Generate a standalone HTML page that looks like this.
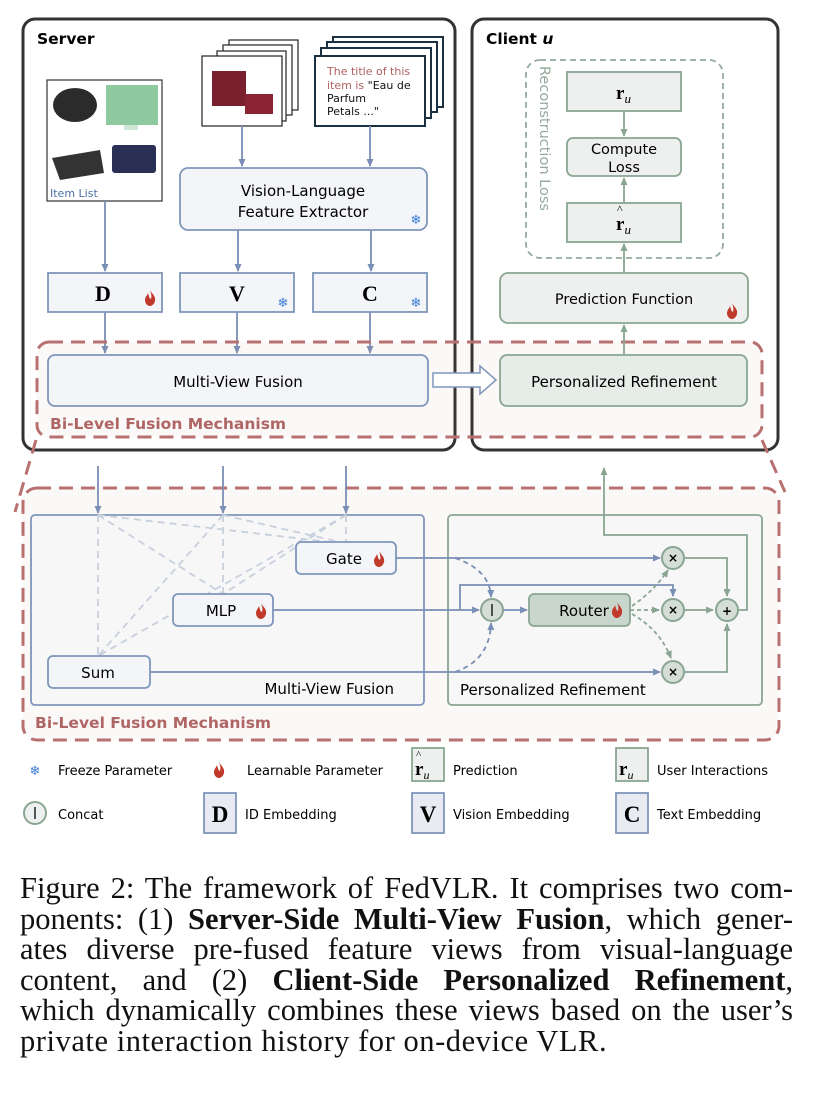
<!DOCTYPE html>
<html><head><meta charset="utf-8"><style>
html,body{margin:0;padding:0;background:#fff;}
body{width:818px;height:1110px;position:relative;overflow:hidden;}
svg{position:absolute;left:0;top:0;}
.cap{position:absolute;left:20px;top:873px;width:773px;font-family:"Liberation Serif",serif;font-size:30.5px;line-height:30.5px;color:#111;}
.cap div{white-space:nowrap;text-align:justify;text-align-last:justify;width:773px;height:30.5px;}
.cap div.l{text-align-last:left;letter-spacing:0.55px;}
</style></head><body>
<svg width="818" height="870" viewBox="0 0 818 870" font-family="DejaVu Sans, Liberation Sans, sans-serif">
<defs>
<marker id="ab" markerWidth="8" markerHeight="8" refX="7" refY="4" orient="auto" markerUnits="userSpaceOnUse"><path d="M0,0.5 L8,4 L0,7.5z" fill="#7a8fb5"/></marker>
<marker id="ag" markerWidth="8" markerHeight="8" refX="7" refY="4" orient="auto" markerUnits="userSpaceOnUse"><path d="M0,0.5 L8,4 L0,7.5z" fill="#8aa592"/></marker>
<g id="fl"><path d="M5,0 C7,4 11,6 10,11 C9,15 6,16 5,16 C2,16 0,13 0,10 C0,7 2,6 3,3 C4,6 4,8 6,9 C7,6 6,3 5,0z" fill="#c0392b"/></g>
</defs>
<rect x="23" y="19" width="432" height="431" rx="12" fill="#fff" stroke="#333" stroke-width="3"/>
<rect x="472" y="19" width="306" height="431" rx="12" fill="#fff" stroke="#333" stroke-width="3"/>
<text x="37" y="44" font-size="15.5" font-weight="bold">Server</text>
<text x="486" y="44" font-size="15.5" font-weight="bold">Client <tspan font-style="italic">u</tspan></text>
<rect x="47" y="80" width="115" height="121" fill="#fff" stroke="#333" stroke-width="1.2"/>
<ellipse cx="75" cy="105" rx="22" ry="17" fill="#2b2b2b"/>
<rect x="106" y="85" width="52" height="40" fill="#8fc9a0"/><rect x="124" y="125" width="14" height="5" fill="#cfe8d5"/>
<path d="M52,158 L100,150 L104,173 L60,180z" fill="#333"/>
<rect x="112" y="145" width="44" height="28" rx="3" fill="#2a3055"/>
<text x="50" y="197" font-size="11" fill="#4a6fa5">Item List</text>
<rect x="229" y="40" width="69" height="70" fill="#fff" stroke="#222" stroke-width="1.2"/>
<rect x="223" y="45" width="69" height="70" fill="#fff" stroke="#222" stroke-width="1.2"/>
<rect x="217" y="51" width="69" height="70" fill="#fff" stroke="#222" stroke-width="1.2"/>
<rect x="202" y="56" width="80" height="70" fill="#fff" stroke="#222" stroke-width="1.2"/>
<rect x="212" y="71" width="34" height="35" fill="#7a1f2e"/><rect x="245" y="94" width="28" height="20" fill="#8a2434"/>
<rect x="333" y="37" width="110" height="70" fill="#fff" stroke="#1b3040" stroke-width="2"/>
<rect x="327" y="42" width="110" height="70" fill="#fff" stroke="#1b3040" stroke-width="2"/>
<rect x="321" y="48" width="110" height="70" fill="#fff" stroke="#1b3040" stroke-width="2"/>
<rect x="315" y="56" width="110" height="70" fill="#fff" stroke="#1b3040" stroke-width="2"/>
<text font-size="11" fill="#b06060"><tspan x="327" y="75">The title of this</tspan><tspan x="327" y="89">item is <tspan fill="#111">"Eau de</tspan></tspan><tspan x="327" y="102" fill="#111">Parfum</tspan><tspan x="327" y="115" fill="#111">Petals ..."</tspan></text>
<g stroke="#7a8fb5" stroke-width="1.8" fill="none">
<line x1="242" y1="126" x2="242" y2="166" marker-end="url(#ab)"/>
<line x1="370" y1="126" x2="370" y2="166" marker-end="url(#ab)"/>
<line x1="105" y1="201" x2="105" y2="271" marker-end="url(#ab)"/>
<line x1="238" y1="230" x2="238" y2="271" marker-end="url(#ab)"/>
<line x1="371" y1="230" x2="371" y2="271" marker-end="url(#ab)"/>
<line x1="105" y1="312" x2="105" y2="353" marker-end="url(#ab)"/>
<line x1="237" y1="312" x2="237" y2="353" marker-end="url(#ab)"/>
<line x1="370" y1="312" x2="370" y2="353" marker-end="url(#ab)"/>
</g>
<rect x="180" y="168" width="247" height="62" rx="8" fill="#f3f5f8" stroke="#7f96bb" stroke-width="1.8"/>
<text x="303" y="196" font-size="15" text-anchor="middle">Vision-Language</text>
<text x="303" y="217" font-size="15" text-anchor="middle">Feature Extractor</text>
<text x="416" y="224" font-size="13" fill="#3a7bd5" text-anchor="middle">❄</text>
<g fill="#f3f5f8" stroke="#7f96bb" stroke-width="1.8">
<rect x="48" y="273" width="114" height="39"/><rect x="180" y="273" width="114" height="39"/><rect x="313" y="273" width="114" height="39"/></g>
<g font-family="Liberation Serif, serif" font-weight="bold" font-size="22" text-anchor="middle">
<text x="103" y="301">D</text><text x="237" y="301">V</text><text x="370" y="301">C</text></g>
<use href="#fl" x="145" y="290"/>
<text x="283" y="307" font-size="13" fill="#3a7bd5" text-anchor="middle">❄</text>
<text x="416" y="307" font-size="13" fill="#3a7bd5" text-anchor="middle">❄</text>
<rect x="37" y="342" width="725" height="95" rx="12" fill="#b87070" fill-opacity="0.05" stroke="#b87070" stroke-width="3" stroke-dasharray="14,8"/>
<rect x="48" y="355" width="380" height="51" rx="7" fill="#f3f5f8" stroke="#7f96bb" stroke-width="1.8"/>
<text x="238" y="387" font-size="15" text-anchor="middle">Multi-View Fusion</text>
<path d="M433,373 L480,373 L480,366 L496,380 L480,394 L480,387 L433,387z" fill="#fff" stroke="#7f96bb" stroke-width="1.5"/>
<rect x="500" y="355" width="247" height="51" rx="7" fill="#e6ece7" stroke="#8aa592" stroke-width="1.8"/>
<text x="624" y="387" font-size="15" text-anchor="middle">Personalized Refinement</text>
<text x="50" y="429" font-size="15.5" font-weight="bold" fill="#b06565">Bi-Level Fusion Mechanism</text>
<rect x="526" y="60" width="197" height="198" rx="14" fill="none" stroke="#95aa9c" stroke-width="1.8" stroke-dasharray="6,4"/>
<text transform="translate(540,66) rotate(90)" font-size="14.5" fill="#95aa9c">Reconstruction Loss</text>
<g fill="#eef0ef" stroke="#8aa592" stroke-width="1.8">
<rect x="567" y="72" width="114" height="39"/><rect x="567" y="138" width="114" height="38" rx="6"/><rect x="567" y="203" width="114" height="39"/>
<rect x="500" y="273" width="248" height="50" rx="8"/></g>
<text x="616" y="99" font-family="Liberation Serif, serif" font-weight="bold" font-size="19">r<tspan font-weight="normal" font-style="italic" font-size="13" dy="4">u</tspan></text>
<text x="616" y="230" font-family="Liberation Serif, serif" font-weight="bold" font-size="19">r<tspan font-weight="normal" font-style="italic" font-size="13" dy="4">u</tspan></text>
<text x="617" y="213" font-family="Liberation Serif, serif" font-size="12">^</text>
<text x="624" y="154" font-size="14.5" text-anchor="middle">Compute</text>
<text x="624" y="172" font-size="14.5" text-anchor="middle">Loss</text>
<text x="624" y="304" font-size="14.5" text-anchor="middle">Prediction Function</text>
<use href="#fl" x="727" y="303"/>
<g stroke="#8aa592" stroke-width="1.8">
<line x1="624" y1="111" x2="624" y2="136" marker-end="url(#ag)"/>
<line x1="624" y1="203" x2="624" y2="178" marker-end="url(#ag)"/>
<line x1="624" y1="273" x2="624" y2="244" marker-end="url(#ag)"/>
<line x1="624" y1="355" x2="624" y2="325" marker-end="url(#ag)"/>
</g>
<g stroke="#b87070" stroke-width="3" stroke-dasharray="14,8" fill="none">
<line x1="36" y1="440" x2="15" y2="512"/><line x1="762" y1="440" x2="785" y2="492"/></g>
<rect x="23" y="488" width="756" height="252" rx="14" fill="#b87070" fill-opacity="0.05" stroke="#b87070" stroke-width="3" stroke-dasharray="14,8"/>
<rect x="31" y="515" width="393" height="190" rx="4" fill="#f7f7f8" stroke="#7f96bb" stroke-width="1.8"/>
<rect x="448" y="515" width="314" height="190" rx="4" fill="#f7f7f7" stroke="#8aa592" stroke-width="1.8"/>
<g stroke="#c8d0de" stroke-width="1.8" stroke-dasharray="7,5" fill="none">
<line x1="98" y1="515" x2="98" y2="656"/><line x1="98" y1="515" x2="223" y2="594"/><line x1="98" y1="515" x2="330" y2="542"/>
<line x1="223" y1="515" x2="223" y2="594"/><line x1="223" y1="515" x2="98" y2="656"/><line x1="223" y1="515" x2="340" y2="542"/>
<line x1="346" y1="515" x2="346" y2="542"/><line x1="346" y1="515" x2="223" y2="594"/><line x1="346" y1="515" x2="98" y2="656"/>
</g>
<g stroke="#7a8fb5" stroke-width="1.8" fill="none">
<line x1="98" y1="466" x2="98" y2="513" marker-end="url(#ab)"/>
<line x1="223" y1="466" x2="223" y2="513" marker-end="url(#ab)"/>
<line x1="346" y1="466" x2="346" y2="513" marker-end="url(#ab)"/>
<line x1="396" y1="558" x2="660" y2="558" marker-end="url(#ab)"/>
<line x1="150" y1="672" x2="660" y2="672" marker-end="url(#ab)"/>
<path d="M273,610 L479,610" marker-end="url(#ab)"/>
<path d="M460,610 L460,585 L673,585 L673,596" marker-end="url(#ab)"/>
<path d="M503,610 L527,610" marker-end="url(#ab)"/>
<path d="M455,558 Q490,570 491,597" stroke-dasharray="5,4" marker-end="url(#ab)"/>
<path d="M455,672 Q490,660 491,623" stroke-dasharray="5,4" marker-end="url(#ab)"/>
</g>
<g stroke="#8aa592" stroke-width="1.8" fill="none">
<path d="M630,610 L659,610" stroke-dasharray="4,3" marker-end="url(#ag)"/>
<path d="M632,606 Q655,590 668,570" stroke-dasharray="4,3" marker-end="url(#ag)"/>
<path d="M632,614 Q660,630 671,658" stroke-dasharray="4,3" marker-end="url(#ag)"/>
<path d="M685,558 L727,558 L727,596" marker-end="url(#ag)"/>
<path d="M685,610 L713,610" marker-end="url(#ag)"/>
<path d="M685,672 L727,672 L727,624" marker-end="url(#ag)"/>
<path d="M739,610 L747,610 L747,535 L604,535 L604,468" marker-end="url(#ag)"/>
</g>
<g fill="#f3f5f8" stroke="#7f96bb" stroke-width="1.8">
<rect x="296" y="542" width="100" height="32" rx="5"/><rect x="173" y="594" width="100" height="32" rx="5"/><rect x="48" y="656" width="102" height="32" rx="5"/></g>
<text x="344" y="564" font-size="15" text-anchor="middle">Gate</text><use href="#fl" x="374" y="551"/>
<text x="221" y="616" font-size="15" text-anchor="middle">MLP</text><use href="#fl" x="256" y="603"/>
<text x="98" y="678" font-size="15" text-anchor="middle">Sum</text>
<rect x="529" y="594" width="101" height="32" rx="5" fill="#c9d6cc" stroke="#8aa592" stroke-width="1.8"/>
<text x="584" y="616" font-size="15" text-anchor="middle">Router</text><use href="#fl" x="612" y="602"/>
<g fill="#d4ded7" stroke="#8aa592" stroke-width="2">
<circle cx="492" cy="610" r="11"/><circle cx="673" cy="558" r="11"/><circle cx="673" cy="610" r="11"/><circle cx="673" cy="672" r="11"/><circle cx="727" cy="610" r="11"/></g>
<line x1="492" y1="604" x2="492" y2="616" stroke="#222" stroke-width="1.5"/>
<g font-size="12" font-weight="bold" text-anchor="middle"><text x="673" y="562">×</text><text x="673" y="614">×</text><text x="673" y="676">×</text><text x="727" y="615">+</text></g>
<text x="394" y="694" font-size="15" text-anchor="end">Multi-View Fusion</text>
<text x="460" y="695" font-size="15">Personalized Refinement</text>
<text x="35" y="728" font-size="15.5" font-weight="bold" fill="#b06565">Bi-Level Fusion Mechanism</text>
<g font-size="13">
<text x="35" y="775" font-size="13" fill="#3a7bd5" text-anchor="middle">❄</text><text x="58" y="775">Freeze Parameter</text>
<use href="#fl" x="214" y="762"/><text x="247" y="775">Learnable Parameter</text>
<text x="453" y="775">Prediction</text><text x="657" y="775">User Interactions</text>
<text x="58" y="819">Concat</text><text x="245" y="819">ID Embedding</text><text x="453" y="819">Vision Embedding</text><text x="657" y="819">Text Embedding</text>
</g>
<g fill="#eef0ef" stroke="#8aa592" stroke-width="1.8"><rect x="412" y="748" width="32" height="33"/><rect x="616" y="748" width="32" height="33"/></g>
<g fill="#e8ebf2" stroke="#7f96bb" stroke-width="1.8"><rect x="204" y="793" width="32" height="40"/><rect x="412" y="793" width="32" height="40"/><rect x="616" y="793" width="32" height="40"/></g>
<g font-family="Liberation Serif, serif" font-weight="bold" font-size="19">
<text x="415" y="775">r<tspan font-weight="normal" font-style="italic" font-size="12" dy="4">u</tspan></text>
<text x="416" y="758" font-size="11" font-weight="normal">^</text>
<text x="619" y="775">r<tspan font-weight="normal" font-style="italic" font-size="12" dy="4">u</tspan></text>
<text x="220" y="822" font-size="23" text-anchor="middle">D</text><text x="428" y="822" font-size="23" text-anchor="middle">V</text><text x="632" y="822" font-size="23" text-anchor="middle">C</text></g>
<circle cx="35" cy="813" r="11" fill="#eef0ef" stroke="#8aa592" stroke-width="2"/><line x1="35" y1="807" x2="35" y2="819" stroke="#222" stroke-width="1.5"/>
</svg>
<div class="cap">
<div>Figure 2: The framework of FedVLR. It comprises two com-</div>
<div>ponents: (1) <b>Server-Side Multi-View Fusion</b>, which gener-</div>
<div>ates diverse pre-fused feature views from visual-language</div>
<div>content, and (2) <b>Client-Side Personalized Refinement</b>,</div>
<div>which dynamically combines these views based on the user’s</div>
<div class="l">private interaction history for on-device VLR.</div>
</div>
</body></html>
